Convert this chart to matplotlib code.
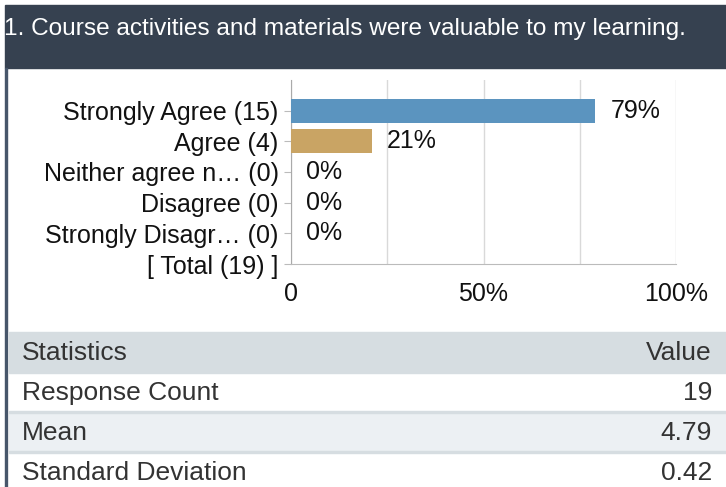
import matplotlib.pyplot as plt
import matplotlib.patches as patches

# survey data
title = "1. Course activities and materials were valuable to my learning."
categories = ["Strongly Agree (15)", "Agree (4)", "Neither agree n\u2026 (0)",
              "Disagree (0)", "Strongly Disagr\u2026 (0)", "[ Total (19) ]"]
percents = [79, 21, 0, 0, 0]
bar_colors = ["#5b94bf", "#c9a464", "#5b94bf", "#5b94bf", "#5b94bf"]
xticks = [0, 25, 50, 75, 100]
xtick_labels = ["0", "", "50%", "", "100%"]

stat_names = ["Response Count", "Mean", "Standard Deviation"]
stat_values = ["19", "4.79", "0.42"]

W, H = 726, 487
plt.rcParams['font.family'] = ['Liberation Sans', 'DejaVu Sans']

fig = plt.figure(figsize=(W / 100, H / 100), dpi=100)


def fx(px):
    return px / W


def fy(py):
    return 1 - py / H


# header band + left border
fig.patches.append(patches.Rectangle((fx(5), fy(68)), fx(W - 5), 63 / H,
                                     transform=fig.transFigure, color="#364150", zorder=0))
fig.patches.append(patches.Rectangle((fx(5), 0), fx(2), fy(68),
                                     transform=fig.transFigure, color="#47566a", zorder=0))
fig.text(fx(4), fy(29), title, color="white", fontsize=17.6, va="center", ha="left")

# bar chart
ax = fig.add_axes([fx(291), fy(264), fx(676 - 291), 184 / H])
ypos = list(range(len(percents)))
ax.barh(ypos, percents, height=0.78, color=bar_colors, zorder=3)
for y, p in zip(ypos, percents):
    ax.annotate(f"{p}%", (p, y), xytext=(11, 0), textcoords="offset points",
                va="center", ha="left", fontsize=18, color="#111111")

ax.set_xlim(0, 100)
ax.set_ylim(len(categories) - 1, -1)
ax.set_yticks(range(len(categories)))
ax.set_yticklabels(categories, fontsize=18, color="#111111")
ax.set_xticks(xticks)
ax.set_xticklabels(xtick_labels, fontsize=18, color="#111111")
ax.tick_params(axis="x", length=0, pad=13)
ax.tick_params(axis="y", length=5, color="#bbbbbb", pad=4)
ax.grid(axis="x", color="#d9d9d9", linewidth=1, zorder=0)
for side in ["top", "right"]:
    ax.spines[side].set_visible(False)
ax.spines["left"].set_color("#aaaaaa")
ax.spines["bottom"].set_color("#bbbbbb")

# statistics table
row_top = 332
row_h = 40
rows = [("Statistics", "Value")] + list(zip(stat_names, stat_values))
row_bg = ["#d6dde1", "white", "#ecf0f3", "white"]
for i, (name, val) in enumerate(rows):
    top = row_top + i * row_h
    fig.patches.append(patches.Rectangle((fx(9), fy(top + row_h)), fx(W - 9), row_h / H,
                                         transform=fig.transFigure, color=row_bg[i], zorder=0))
    if i > 0:
        fig.patches.append(patches.Rectangle((fx(9), fy(top + 1)), fx(W - 9), 2 / H,
                                             transform=fig.transFigure, color="#d6dde1", zorder=1))
    fig.text(fx(22), fy(top + row_h / 2 + 1), name, fontsize=19, color="#333333",
             va="center", ha="left")
    fig.text(fx(712), fy(top + row_h / 2 + 1), val, fontsize=19, color="#333333",
             va="center", ha="right")

fig.savefig("out.png", dpi=100)
